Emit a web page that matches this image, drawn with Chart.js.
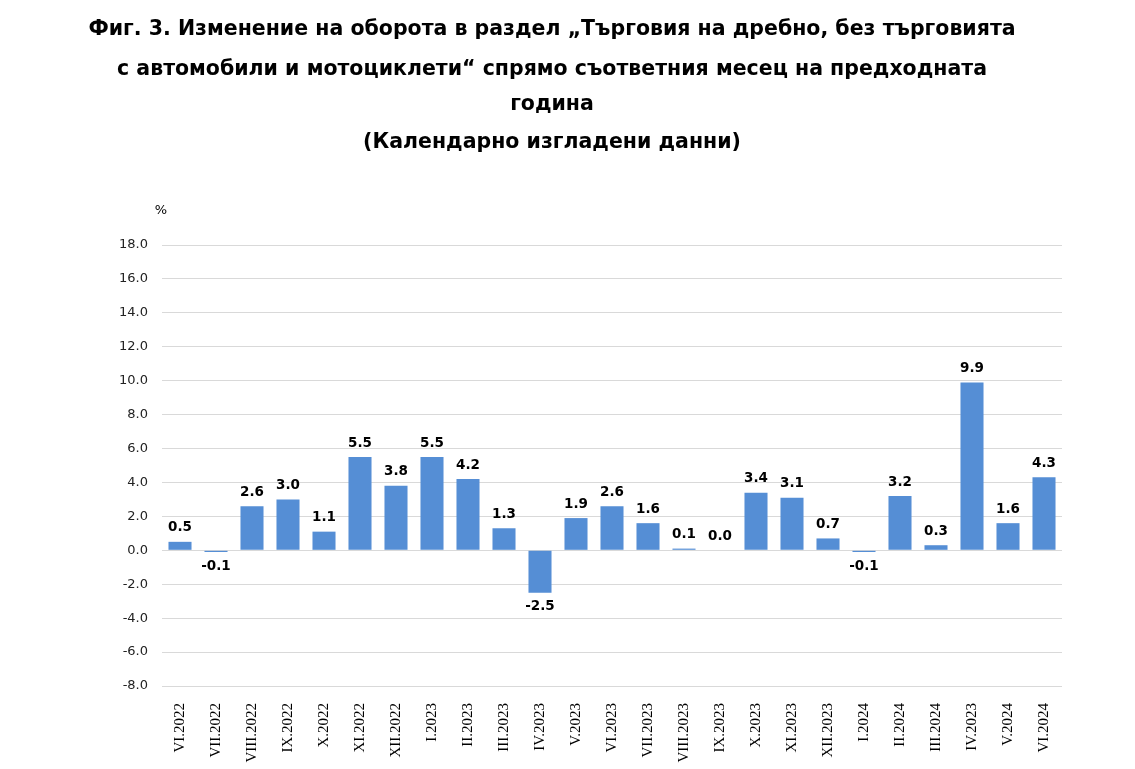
<!DOCTYPE html>
<html>
<head>
<meta charset="utf-8">
<script src="https://cdn.jsdelivr.net/npm/chart.js@4/dist/chart.umd.min.js"></script>
<style>
  html, body { margin: 0; padding: 0; background: #fff; }
  #wrap { width: 1135px; height: 769px; position: relative; }
</style>
</head>
<body>
<div id="wrap"><canvas id="chart"></canvas></div>
<script>
const months = [
  'VI.2022', 'VII.2022', 'VIII.2022', 'IX.2022', 'X.2022', 'XI.2022', 'XII.2022',
  'I.2023', 'II.2023', 'III.2023', 'IV.2023', 'V.2023', 'VI.2023', 'VII.2023',
  'VIII.2023', 'IX.2023', 'X.2023', 'XI.2023', 'XII.2023', 'I.2024', 'II.2024',
  'III.2024', 'IV.2023', 'V.2024', 'VI.2024'
];
const turnoverChange = [
  0.5, -0.1, 2.6, 3.0, 1.1, 5.5, 3.8, 5.5, 4.2, 1.3, -2.5, 1.9, 2.6, 1.6,
  0.1, 0.0, 3.4, 3.1, 0.7, -0.1, 3.2, 0.3, 9.9, 1.6, 4.3
];
const yMin = -8;
const yMax = 18;
const yStep = 2;

const titleLines = [
  'Фиг. 3. Изменение на оборота в раздел „Търговия на дребно, без търговията',
  'с автомобили и мотоциклети“ спрямо съответния месец на предходната',
  'година',
  '(Календарно изгладени данни)'
];
const titleRowsY = [30, 70, 105, 143];

// title, value labels above/below bars and the "%" unit label
const extraText = {
  id: 'extraText',
  afterDatasetsDraw(chart) {
    const ctx = chart.ctx;
    const meta = chart.getDatasetMeta(0);
    ctx.save();
    ctx.fillStyle = '#000';
    ctx.textAlign = 'center';
    ctx.textBaseline = 'middle';

    ctx.font = 'bold 13.5px "DejaVu Sans", Verdana, sans-serif';
    meta.data.forEach((bar, i) => {
      const v = turnoverChange[i];
      const y = v < 0 ? Math.max(bar.y, bar.base) + 14 : Math.min(bar.y, bar.base) - 14;
      ctx.fillText(v.toFixed(1), bar.x, y);
    });

    ctx.font = '13px "DejaVu Sans", Verdana, sans-serif';
    ctx.fillText('%', 161, 211);

    ctx.font = 'bold 20.5px "DejaVu Sans", Verdana, sans-serif';
    titleLines.forEach((line, i) => ctx.fillText(line, 552, titleRowsY[i]));
    ctx.restore();
  }
};

new Chart(document.getElementById('chart'), {
  type: 'bar',
  data: {
    labels: months,
    datasets: [{
      data: turnoverChange,
      backgroundColor: '#558ed5',
      categoryPercentage: 1.0,
      barPercentage: 0.64,
    }],
  },
  options: {
    responsive: true,
    maintainAspectRatio: false,
    animation: false,
    layout: { padding: { left: 0, right: 73, top: 245, bottom: 0 } },
    plugins: {
      legend: { display: false },
      tooltip: { enabled: false },
      title: { display: false },
    },
    scales: {
      x: {
        afterFit: (scale) => { scale.height = 83; },
        grid: { display: false, drawTicks: false },
        border: { display: false },
        ticks: {
          minRotation: 90,
          maxRotation: 90,
          autoSkip: false,
          padding: 17,
          color: '#000',
          font: { family: '"Liberation Serif", "DejaVu Serif", serif', size: 15 },
        },
      },
      y: {
        min: yMin,
        max: yMax,
        afterFit: (scale) => { scale.width = 162; },
        grid: { color: '#d9d9d9', drawTicks: false, lineWidth: 1 },
        border: { display: false },
        ticks: {
          stepSize: yStep,
          padding: 14,
          color: '#222',
          font: { family: '"DejaVu Sans", Verdana, sans-serif', size: 13 },
          callback: (v) => Number(v).toFixed(1),
        },
      },
    },
  },
  plugins: [extraText],
});
</script>
</body>
</html>
